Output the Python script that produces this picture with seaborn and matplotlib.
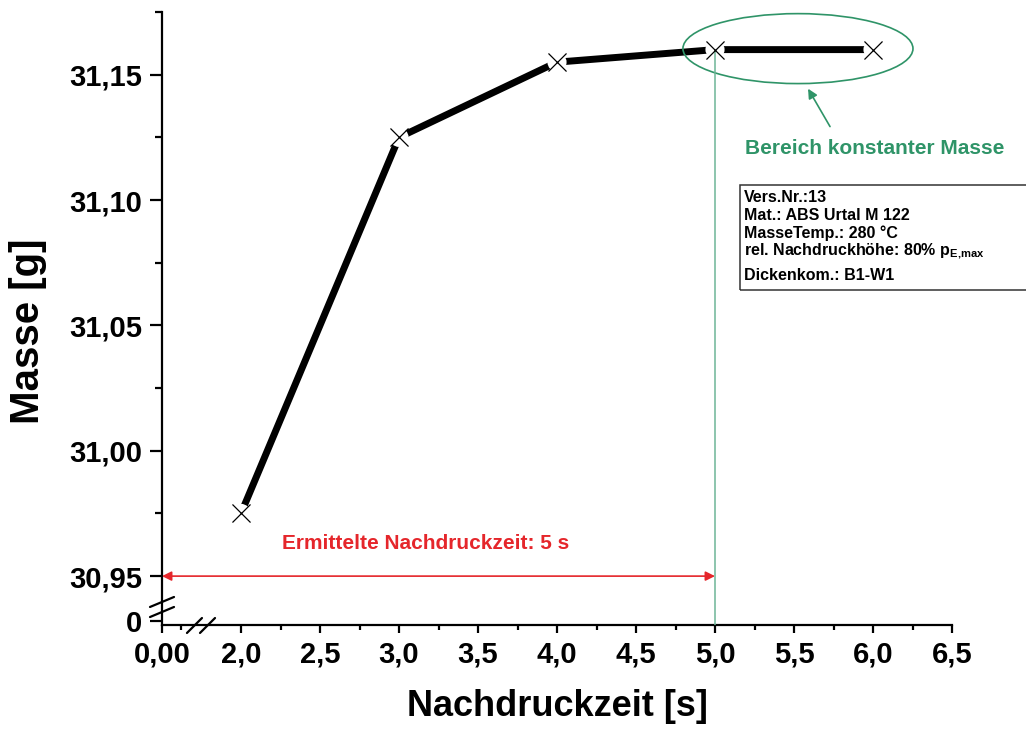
import matplotlib
matplotlib.use("Agg")
import matplotlib.pyplot as plt
import seaborn as sns
import pandas as pd
from matplotlib.patches import Ellipse, Rectangle

# ---- data ----
zeit = [2.0, 3.0, 4.0, 5.0, 6.0]
masse = [30.975, 31.125, 31.155, 31.160, 31.160]

x_major = [1.5, 2.0, 2.5, 3.0, 3.5, 4.0, 4.5, 5.0, 5.5, 6.0, 6.5]
x_labels = ["0,00", "2,0", "2,5", "3,0", "3,5", "4,0", "4,5", "5,0", "5,5", "6,0", "6,5"]
x_minor = [1.62, 2.25, 2.75, 3.25, 3.75, 4.25, 4.75, 5.25, 5.75, 6.25]
y_major = [30.932, 30.95, 31.00, 31.05, 31.10, 31.15]
y_labels = ["0", "30,95", "31,00", "31,05", "31,10", "31,15"]
y_minor = [30.975, 31.025, 31.075, 31.125, 31.175]

info_lines = ["Vers.Nr.:13", "Mat.: ABS Urtal M 122", "MasseTemp.: 280 °C",
              r"rel. Nachdruckhöhe: 80% $\mathbf{p}_{\mathbf{E{,}max}}$", "Dickenkom.: B1-W1"]

df = pd.DataFrame({"zeit": zeit, "masse": masse})

sns.set_style("ticks")
plt.rcParams["font.family"] = ["Liberation Sans", "DejaVu Sans"]
plt.rcParams["font.weight"] = "bold"
plt.rcParams["mathtext.fontset"] = "custom"
plt.rcParams["mathtext.bf"] = "Liberation Sans:bold"
plt.rcParams["mathtext.rm"] = "Liberation Sans:bold"
for k in ["text.color", "axes.labelcolor", "xtick.color", "ytick.color", "axes.edgecolor"]:
    plt.rcParams[k] = "black"

fig = plt.figure(figsize=(10.26, 7.31), dpi=100)
ax = fig.add_axes([162 / 1026, 1 - 625 / 731, 790 / 1026, 613 / 731])

red = "#e5262b"
green = "#2f9468"
lightgreen = "#6db597"

# main line
sns.lineplot(data=df, x="zeit", y="masse", color="black", linewidth=5,
             solid_capstyle="round", ax=ax, zorder=2)
# gaps around markers
sns.scatterplot(data=df, x="zeit", y="masse", color="white", s=190,
                edgecolor="none", ax=ax, zorder=3)
# green vertical line at 5 s
ax.plot([zeit[3], zeit[3]], [30.9305, masse[3]], color=lightgreen, lw=1.1, zorder=3.5)
# markers
sns.scatterplot(data=df, x="zeit", y="masse", color="black", marker="x", s=169,
                linewidth=0.9, ax=ax, zorder=4)

ax.set_xlim(1.5, 6.5)
ax.set_ylim(30.9305, 31.175)

ax.set_xticks(x_major)
ax.set_xticklabels(x_labels)
ax.set_xticks(x_minor, minor=True)
ax.set_yticks(y_major)
ax.set_yticklabels(y_labels)
ax.set_yticks(y_minor, minor=True)

for s in ["top", "right"]:
    ax.spines[s].set_visible(False)
for s in ["left", "bottom"]:
    ax.spines[s].set_linewidth(1.6)
    ax.spines[s].set_color("black")

ax.tick_params(axis="y", which="major", direction="out", length=9, width=1.6,
               labelsize=21, pad=5, color="black", labelcolor="black")
ax.tick_params(axis="y", which="minor", direction="out", length=5, width=1.6, color="black")
ax.tick_params(axis="x", which="major", direction="out", length=6, width=1.6,
               labelsize=21, pad=5, color="black", labelcolor="black")
ax.tick_params(axis="x", which="minor", direction="out", length=3.5, width=1.6, color="black")
for lab in ax.get_xticklabels() + ax.get_yticklabels():
    lab.set_fontweight("bold")

ax.set_xlabel("Nachdruckzeit [s]", fontsize=26, fontweight="bold", color="black")
ax.set_ylabel("Masse [g]", fontsize=29, fontweight="bold", color="black")
ax.xaxis.set_label_coords(0.5, -0.105)
ax.yaxis.set_label_coords(-0.146, 0.48)

# break marks
kw = dict(color="black", lw=1.6, transform=ax.transAxes, clip_on=False, zorder=5)
ax.plot([-0.0152, 0.0152], [0.0294, 0.0457], **kw)
ax.plot([-0.0152, 0.0152], [0.0130, 0.0294], **kw)
ax.plot([0.0316, 0.0506], [-0.013, 0.0114], **kw)
ax.plot([0.0481, 0.0671], [-0.013, 0.0114], **kw)

# red double arrow + text
ax.annotate("", xy=(x_major[0], y_major[1]), xytext=(zeit[3], y_major[1]),
            arrowprops=dict(arrowstyle="<|-|>", color=red, lw=1.2, shrinkA=0, shrinkB=0,
                            mutation_scale=14), zorder=3)
ax.text(3.17, 30.9631, "Ermittelte Nachdruckzeit: 5 s", color=red, fontsize=15,
        fontweight="bold", ha="center", va="center")

# green ellipse, arrow, text
ax.add_patch(Ellipse((5.525, 31.1604), 1.456, 0.0279, fill=False, edgecolor=green,
                     lw=1.2, zorder=3))
ax.annotate("", xy=(5.589, 31.1444), xytext=(5.728, 31.1293),
            arrowprops=dict(arrowstyle="-|>", color=green, lw=1.2, shrinkA=0, shrinkB=0,
                            mutation_scale=14))
ax.text(6.013, 31.1206, "Bereich konstanter Masse", color=green, fontsize=15,
        fontweight="bold", ha="center", va="center")

# info box (figure coordinates)
fig.patches.append(Rectangle((740 / 1026, 1 - 290 / 731), 0.3, 105 / 731, fill=False,
                             edgecolor="#333333", lw=1.1, transform=fig.transFigure))
line_y = [197, 215, 233, 251, 275]
for txt, yy in zip(info_lines, line_y):
    fig.text(744 / 1026, 1 - yy / 731, txt, fontsize=11.5, fontweight="bold",
             ha="left", va="center", color="black")

fig.savefig("out.png", dpi=100)
